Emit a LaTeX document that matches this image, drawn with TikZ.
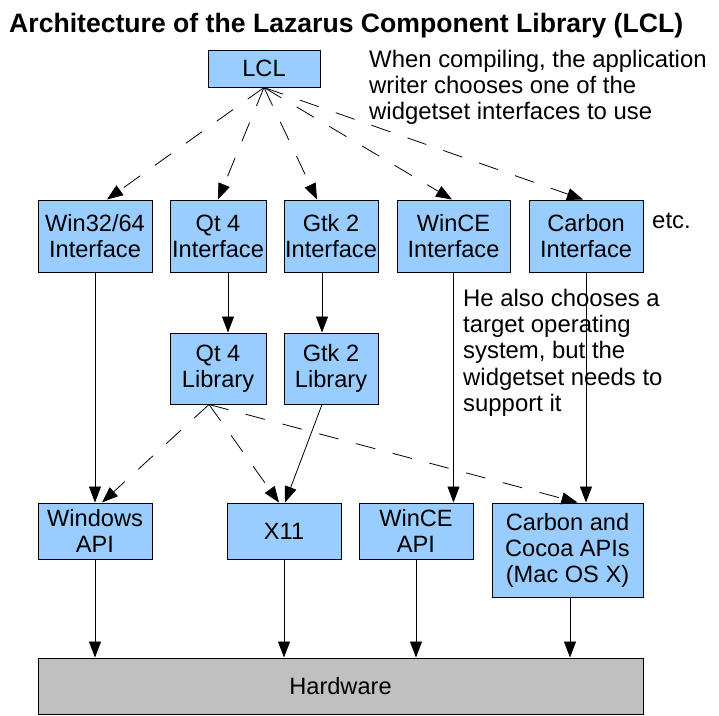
\documentclass[tikz,border=0pt]{standalone}
\usepackage{fontspec}
\setmainfont{Liberation Sans}
\usetikzlibrary{arrows.meta}
\definecolor{boxblue}{HTML}{99CCFF}
\definecolor{hwgray}{HTML}{C0C0C0}
\tikzset{
  box/.style={draw, line width=1pt, fill=boxblue, align=center, inner sep=0pt,
    font=\fontsize{23.6}{26}\selectfont},
  hwbox/.style={box, fill=hwgray},
  note/.style={align=left, inner sep=0pt, font=\fontsize{23.9}{26.2}\selectfont},
  solidarr/.style={line width=0.8pt, -{Triangle[length=16pt,width=12pt]}},
  dasharr/.style={line width=0.8pt, dash pattern=on 20pt off 18pt, -{Triangle[length=16pt,width=12pt]}},
}
\begin{document}
\begin{tikzpicture}[x=1pt,y=-1pt]
\useasboundingbox[fill=white] (0,0) rectangle (719,715);
% title
\node[anchor=base west, inner sep=0pt, font=\fontsize{26.6}{30}\selectfont\bfseries] (title) at (9,32)
  {Architecture of the Lazarus Component Library (LCL)};
% boxes
\node[box, minimum width=112pt, minimum height=37pt] (lcl) at (264,68.5) {LCL};
\node[box, minimum width=114pt, minimum height=72pt] (win32) at (95,236) {Win32/64\\Interface};
\node[box, minimum width=96pt, minimum height=72pt] (qt4i) at (218,236) {Qt 4\\Interface};
\node[box, minimum width=94pt, minimum height=72pt] (gtk2i) at (331,236) {Gtk 2\\Interface};
\node[box, minimum width=113pt, minimum height=72pt] (wincei) at (453.5,236) {WinCE\\Interface};
\node[box, minimum width=114pt, minimum height=72pt] (carboni) at (586,236) {Carbon\\Interface};
\node[box, minimum width=96pt, minimum height=71pt] (qt4l) at (218,368.5) {Qt 4\\Library};
\node[box, minimum width=94pt, minimum height=71pt] (gtk2l) at (331,368.5) {Gtk 2\\Library};
\node[box, minimum width=114pt, minimum height=56pt] (winapi) at (95,531) {Windows\\API};
\node[box, minimum width=114pt, minimum height=56pt] (x11) at (284,531) {X11};
\node[box, minimum width=114pt, minimum height=56pt] (winceapi) at (416,531) {WinCE\\API};
\node[box, minimum width=151pt, minimum height=94pt] (carbonapi) at (567.5,550) {Carbon and\\Cocoa APIs\\(Mac OS X)};
\node[hwbox, minimum width=605pt, minimum height=56pt] (hw) at (340.5,686) {Hardware};
% notes
\node[note, anchor=north west] (note1) at (369,50) {When compiling, the application\\writer chooses one of the\\widgetset interfaces to use};
\node[note, anchor=north west] (note2) at (463,289) {He also chooses a\\target operating\\system, but the\\widgetset needs to\\support it};
\node[note, anchor=base west] (etc) at (652,228) {etc.};
% LCL to interfaces (dashed)
\draw[dasharr] (lcl.south) -- ([xshift=12pt]win32.north);
\draw[dasharr] (lcl.south) -- (qt4i.north);
\draw[dasharr] (lcl.south) -- ([xshift=-14pt]gtk2i.north);
\draw[dasharr] (lcl.south) -- ([xshift=-1.5pt]wincei.north);
\draw[dasharr] (lcl.south) -- ([xshift=-3pt]carboni.north);
% interfaces to libraries / APIs
\draw[solidarr] (win32.south) -- (winapi.north);
\draw[solidarr] ([xshift=10pt]qt4i.south) -- ([xshift=10pt]qt4l.north);
\draw[solidarr] ([xshift=-9pt]gtk2i.south) -- ([xshift=-9pt]gtk2l.north);
\draw[solidarr] ([xshift=-9pt]gtk2l.south) -- ([xshift=1pt]x11.north);
\draw[solidarr] (wincei.south) -- (wincei.south |- winceapi.north);
\draw[solidarr] (carboni.south) -- (carboni.south |- carbonapi.north);
% Qt 4 library (dashed)
\draw[dasharr] ([xshift=-9pt]qt4l.south) -- ([xshift=7pt]winapi.north);
\draw[dasharr] ([xshift=-9pt]qt4l.south) -- ([xshift=-5pt]x11.north);
\draw[dasharr] ([xshift=-9pt]qt4l.south) -- ([xshift=10pt]carbonapi.north);
% APIs to hardware
\draw[solidarr] (winapi.south) -- (winapi.south |- hw.north);
\draw[solidarr] (x11.south) -- (x11.south |- hw.north);
\draw[solidarr] (winceapi.south) -- (winceapi.south |- hw.north);
\draw[solidarr] ([xshift=2.5pt]carbonapi.south) -- ([xshift=2.5pt]carbonapi.south |- hw.north);
\end{tikzpicture}
\end{document}
